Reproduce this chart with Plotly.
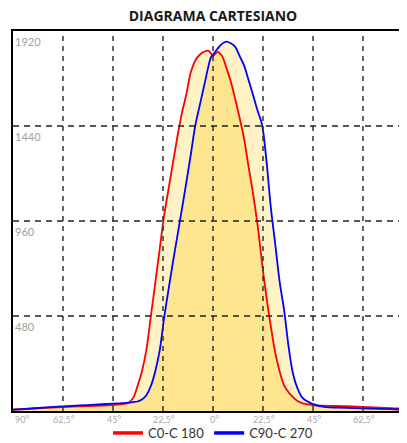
import plotly.graph_objects as go

# ---- data ----
angles = [-90, -80, -70, -60, -50, -45, -42, -40, -38, -36, -34, -32, -30, -28, -26, -24,
          -22, -20, -18, -16, -14, -12, -10, -8, -6, -4, -2, -1, 0, 1, 2, 4, 6, 8, 10,
          12, 14, 16, 18, 20, 22, 24, 26, 28, 30, 32, 34, 36, 38, 40, 42, 45, 50, 60,
          70, 80, 90]
c0_c180 = [8, 13, 19, 23, 27, 30, 33, 36, 42, 65, 125, 200, 308, 476, 645, 817,
           987, 1122, 1256, 1387, 1505, 1600, 1712, 1770, 1800, 1815, 1820, 1808, 1795, 1805, 1815, 1795, 1735, 1665, 1575,
           1480, 1375, 1235, 1100, 945, 755, 580, 430, 295, 200, 130, 95, 70, 50, 40, 35, 30, 27, 24,
           20, 15, 8]
c90_c270 = [6, 14, 22, 28, 34, 37, 39, 40, 42, 45, 48, 58, 80, 125, 200, 305,
            470, 615, 755, 886, 1020, 1155, 1295, 1440, 1543, 1643, 1745, 1785, 1800, 1815, 1830, 1855, 1866, 1858, 1840,
            1793, 1745, 1672, 1598, 1520, 1450, 1271, 1031, 844, 653, 510, 326, 188, 115, 70, 52, 35, 21, 16,
            12, 9, 5]

x_tick_vals = [-90, -67.5, -45, -22.5, 0, 22.5, 45, 67.5, 90]
x_tick_text = ["90°", "62,5°", "45°", "22,5°", "0°", "22,5°", "45°", "62,5°", "90°"]
y_tick_vals = [480, 960, 1440, 1920]
y_tick_text = ["480", "960", "1440", "1920"]

series_names = ["C0-C 180", "C90-C 270"]
series_colors = ["#ff0000", "#0000ff"]

X_MIN, X_MAX = -90, 90
Y_MIN, Y_MAX = 0, 1920

union_vals = [max(a, b) for a, b in zip(c0_c180, c90_c270)]
inter_vals = [min(a, b) for a, b in zip(c0_c180, c90_c270)]

fig = go.Figure()
fig.add_trace(go.Scatter(x=angles, y=union_vals, mode="lines", line=dict(width=0, shape="spline"),
                         fill="tozeroy", fillcolor="#fff2c4", showlegend=False, hoverinfo="skip"))
fig.add_trace(go.Scatter(x=angles, y=inter_vals, mode="lines", line=dict(width=0, shape="spline"),
                         fill="tozeroy", fillcolor="#fde68f", showlegend=False, hoverinfo="skip"))
for name, vals, col in zip(series_names, [c0_c180, c90_c270], series_colors):
    fig.add_trace(go.Scatter(x=angles, y=vals, mode="lines", name=name,
                             line=dict(color=col, width=1.8, shape="spline"), showlegend=False))
    fig.add_trace(go.Scatter(x=[None], y=[None], mode="lines", name=name,
                             line=dict(color=col, width=3.5)))

shapes = []
for v in x_tick_vals[1:-1]:
    shapes.append(dict(type="line", xref="x", yref="paper", x0=v, x1=v, y0=0, y1=1,
                       line=dict(color="#333333", width=1.5, dash="5px,5px"), layer="above"))
for v in y_tick_vals[:-1]:
    shapes.append(dict(type="line", xref="paper", yref="y", x0=0, x1=1, y0=v, y1=v,
                       line=dict(color="#222222", width=1.5, dash="6px,5px"), layer="above"))

annotations = []
for v, t in zip(x_tick_vals, x_tick_text):
    annotations.append(dict(x=v, y=0, xref="x", yref="paper", text=t, showarrow=False,
                            xanchor="left" if v == X_MIN else "center", yanchor="top", yshift=-1,
                            xshift=0 if v == X_MIN else (-3 if v == X_MAX else 1),
                            font=dict(family="Lato", size=9, color="#aaaaaa")))
for v, t in zip(y_tick_vals, y_tick_text):
    annotations.append(dict(x=0, y=v, xref="paper", yref="y", text=t, showarrow=False,
                            xanchor="left", yanchor="top", yshift=-2, xshift=0,
                            font=dict(family="Lato", size=11, color="#a0a0a0")))

fig.update_layout(
    width=407, height=443,
    margin=dict(l=4.6, r=2.4, t=23, b=40, pad=0, autoexpand=False),
    paper_bgcolor="white", plot_bgcolor="white",
    title=dict(text="<b>DIAGRAMA CARTESIANO</b>", x=205 / 407, xref="container", xanchor="center",
               y=1 - 8 / 443, yref="container", yanchor="middle",
               font=dict(family="Open Sans", size=14, color="#1a1a1a")),
    xaxis=dict(range=[X_MIN, X_MAX], showgrid=False, zeroline=False, showticklabels=False,
               ticks="", showline=True, linecolor="black", linewidth=1.5, mirror=True, fixedrange=True),
    yaxis=dict(range=[Y_MIN, Y_MAX], showgrid=False, zeroline=False, showticklabels=False,
               ticks="", showline=True, linecolor="black", linewidth=1.5, mirror=False, fixedrange=True),
    showlegend=True,
    legend=dict(orientation="h", x=0.5, xanchor="center", xref="paper", y=-22 / 380, yanchor="middle",
                font=dict(family="Lato", size=13, color="#333333"),
                bgcolor="rgba(0,0,0,0)", tracegroupgap=0),
    shapes=shapes, annotations=annotations,
)

fig.write_html("out.html")
